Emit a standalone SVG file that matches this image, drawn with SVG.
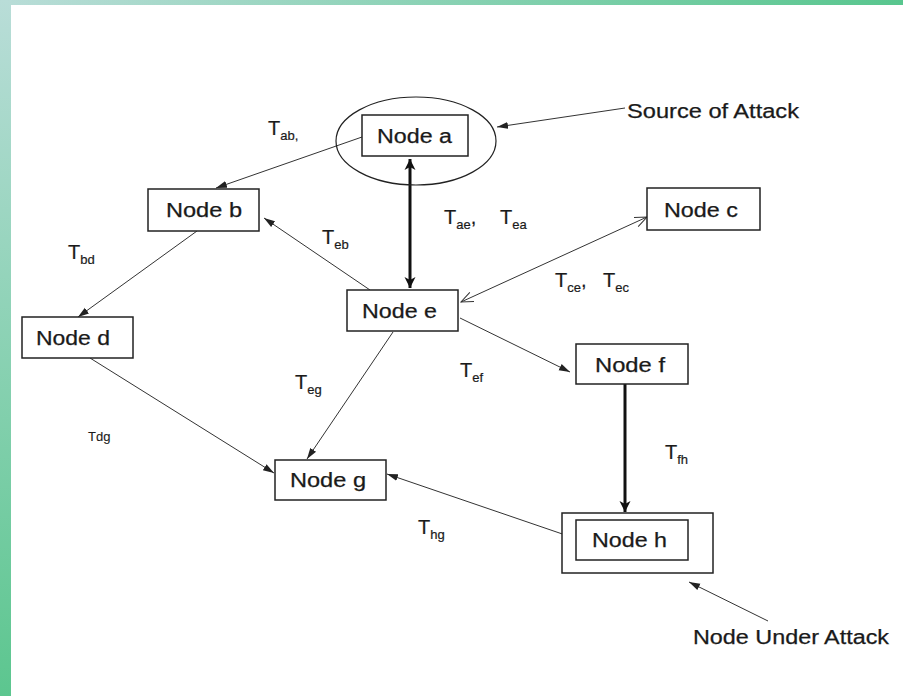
<svg xmlns="http://www.w3.org/2000/svg" width="903" height="696" viewBox="0 0 903 696">
<defs>
<linearGradient id="gTop" x1="0" y1="0" x2="1" y2="0">
<stop offset="0" stop-color="#b9ddd8"/>
<stop offset="1" stop-color="#58c68e"/>
</linearGradient>
<linearGradient id="gLeft" x1="0" y1="0" x2="0" y2="1">
<stop offset="0" stop-color="#b9ddd8"/>
<stop offset="1" stop-color="#5cc68f"/>
</linearGradient>
<marker id="arr" markerUnits="userSpaceOnUse" markerWidth="12" markerHeight="10" viewBox="0 0 12 10" refX="11" refY="5" orient="auto">
<path d="M0,1.5 L11,5 L0,8.5 Z" fill="#222"/>
</marker>
<marker id="open" markerUnits="userSpaceOnUse" markerWidth="14" markerHeight="12" viewBox="0 0 14 12" refX="13" refY="6" orient="auto-start-reverse">
<path d="M1,1 L13,6 L1,11" fill="none" stroke="#333" stroke-width="1"/>
</marker>
<marker id="thick" markerUnits="userSpaceOnUse" markerWidth="14" markerHeight="14" viewBox="0 0 14 14" refX="12" refY="7" orient="auto-start-reverse">
<path d="M1,1.5 L12,7 L1,12.5 L4,7 Z" fill="#111"/>
</marker>
</defs>
<style>
.box{fill:#fff;stroke:#222;stroke-width:1.5}
.lbl{font-family:"Liberation Sans",Arial,sans-serif;font-size:20px;fill:#1a1a1a;stroke:#1a1a1a;stroke-width:0.25}
.t{font-family:"Liberation Sans",Arial,sans-serif;font-size:20px;fill:#1a1a1a;stroke:#1a1a1a;stroke-width:0.2}
.s{font-size:13px}
.ln{stroke:#333;stroke-width:1;fill:none}
.tk{stroke:#111;stroke-width:3;fill:none}
</style>
<rect x="0" y="0" width="903" height="696" fill="#fff"/>
<rect x="0" y="0" width="903" height="5" fill="url(#gTop)"/>
<rect x="0" y="0" width="11" height="696" fill="url(#gLeft)"/>

<g id="connectors">
<line class="ln" x1="362" y1="137" x2="216" y2="188" marker-end="url(#arr)"/>
<line class="ln" x1="370" y1="290" x2="264" y2="218" marker-end="url(#arr)"/>
<line class="tk" x1="410" y1="159" x2="410" y2="288" marker-start="url(#thick)" marker-end="url(#thick)"/>
<line class="ln" x1="461" y1="302" x2="647" y2="217" marker-start="url(#open)" marker-end="url(#open)"/>
<line class="ln" x1="460" y1="318" x2="570" y2="372" marker-end="url(#arr)"/>
<line class="tk" x1="625" y1="384" x2="625" y2="512" marker-end="url(#thick)"/>
<line class="ln" x1="393" y1="332" x2="307" y2="459" marker-end="url(#arr)"/>
<line class="ln" x1="90" y1="358" x2="274" y2="473" marker-end="url(#arr)"/>
<line class="ln" x1="197" y1="231" x2="78" y2="317" marker-end="url(#arr)"/>
<line class="ln" x1="577" y1="539" x2="387" y2="474" marker-end="url(#arr)"/>
<line class="ln" x1="625" y1="108" x2="497" y2="127" marker-end="url(#arr)"/>
<line class="ln" x1="768" y1="621" x2="689" y2="582" marker-end="url(#arr)"/>
</g>

<g id="node-a">
<ellipse cx="416" cy="141" rx="80" ry="44" fill="none" stroke="#222" stroke-width="1.2"/>
<rect class="box" x="362" y="115" width="106" height="41"/>
<text class="lbl" x="377" y="143" textLength="75" lengthAdjust="spacingAndGlyphs">Node a</text>
</g>
<g id="node-b">
<rect class="box" x="148" y="189" width="111" height="42"/>
<text class="lbl" x="166" y="217" textLength="76" lengthAdjust="spacingAndGlyphs">Node b</text>
</g>
<g id="node-c">
<rect class="box" x="647" y="188" width="113" height="42"/>
<text class="lbl" x="664" y="217" textLength="74" lengthAdjust="spacingAndGlyphs">Node c</text>
</g>
<g id="node-d">
<rect class="box" x="22" y="317" width="111" height="41"/>
<text class="lbl" x="36" y="345" textLength="74" lengthAdjust="spacingAndGlyphs">Node d</text>
</g>
<g id="node-e">
<rect class="box" x="347" y="290" width="111" height="41"/>
<text class="lbl" x="362" y="318" textLength="75" lengthAdjust="spacingAndGlyphs">Node e</text>
</g>
<g id="node-f">
<rect class="box" x="576" y="344" width="112" height="40"/>
<text class="lbl" x="595" y="372" textLength="70" lengthAdjust="spacingAndGlyphs">Node f</text>
</g>
<g id="node-g">
<rect class="box" x="275" y="460" width="111" height="40"/>
<text class="lbl" x="290" y="487" textLength="76" lengthAdjust="spacingAndGlyphs">Node g</text>
</g>
<g id="node-h">
<rect class="box" x="562" y="513" width="151" height="60"/>
<rect class="box" x="576" y="520" width="112" height="40"/>
<text class="lbl" x="592" y="547" textLength="75" lengthAdjust="spacingAndGlyphs">Node h</text>
</g>

<g id="labels">
<text class="lbl" x="627" y="118" textLength="172" lengthAdjust="spacingAndGlyphs">Source of Attack</text>
<text class="lbl" x="693" y="644" textLength="196" lengthAdjust="spacingAndGlyphs">Node Under Attack</text>
<text class="t" x="268" y="135">T<tspan class="s" dy="5">ab,</tspan></text>
<text class="t" x="68" y="259">T<tspan class="s" dy="5">bd</tspan></text>
<text class="t" x="322" y="244">T<tspan class="s" dy="5">eb</tspan></text>
<text class="t" x="444" y="224">T<tspan class="s" dy="5">ae</tspan><tspan dy="-5">,</tspan><tspan x="500">T</tspan><tspan class="s" dy="5">ea</tspan></text>
<text class="t" x="555" y="287">T<tspan class="s" dy="5">ce</tspan><tspan dy="-5">,</tspan><tspan x="603">T</tspan><tspan class="s" dy="5">ec</tspan></text>
<text class="t" x="295" y="389">T<tspan class="s" dy="5">eg</tspan></text>
<text class="t" x="460" y="377">T<tspan class="s" dy="5">ef</tspan></text>
<text class="t" x="665" y="459">T<tspan class="s" dy="5">fh</tspan></text>
<text class="t" x="418" y="534">T<tspan class="s" dy="5">hg</tspan></text>
<text class="t" x="88" y="441" style="font-size:13px;stroke-width:0.1">Tdg</text>
</g>
</svg>
